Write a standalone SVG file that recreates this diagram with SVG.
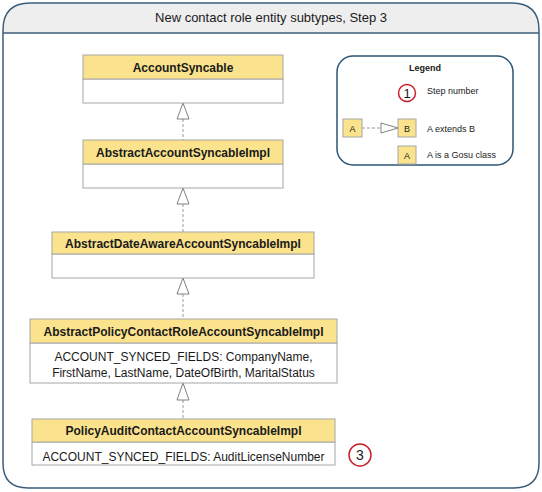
<svg xmlns="http://www.w3.org/2000/svg" width="542" height="492" viewBox="0 0 542 492">
<style>
text{font-family:"Liberation Sans",Arial,sans-serif;fill:#1a1a1a}
.hdr{fill:#fae38c;stroke:#a6a6a6;stroke-width:1}
.body{fill:#ffffff;stroke:#a6a6a6;stroke-width:1}
.name{font-size:12px;font-weight:bold;text-anchor:middle}
.attr{font-size:12px;text-anchor:middle}
.conn{stroke:#9a9a9a;stroke-width:1;stroke-dasharray:3,2;fill:none}
.tri{fill:#ffffff;stroke:#808080;stroke-width:1}
.step{fill:#ffffff;stroke:#c8202a;stroke-width:1.5}
.lg{font-size:9px}
</style>
<g id="frame">
<path d="M3,33 L3,30 Q3,3 30,3 L512,3 Q539,3 539,30 L539,33 Z" fill="#eeeeee"/>
<path d="M3,33 L3,30 Q3,3 30,3 L512,3 Q539,3 539,30 L539,463 Q539,488 514,488 L28,488 Q3,488 3,463 Z" fill="none" stroke="#3b5e7c" stroke-width="1.5"/>
<line x1="3" y1="33" x2="539" y2="33" stroke="#3b5e7c" stroke-width="1.5"/>
<text x="271" y="22" font-size="13" text-anchor="middle">New contact role entity subtypes, Step 3</text>
</g>
<g id="connectors">
<line class="conn" x1="183" y1="119" x2="183" y2="140"/>
<polygon class="tri" points="183,103 177,119 189,119"/>
<line class="conn" x1="183" y1="204" x2="183" y2="232"/>
<polygon class="tri" points="183,188 177,204 189,204"/>
<line class="conn" x1="183" y1="294" x2="183" y2="319"/>
<polygon class="tri" points="183,278 177,294 189,294"/>
<line class="conn" x1="183" y1="400" x2="183" y2="419"/>
<polygon class="tri" points="183,383 177,400 189,400"/>
</g>
<g id="AccountSyncable">
<rect class="body" x="83" y="79" width="200" height="24"/>
<rect class="hdr" x="83" y="55" width="200" height="24"/>
<text class="name" x="183" y="71.5">AccountSyncable</text>
</g>
<g id="AbstractAccountSyncableImpl">
<rect class="body" x="83" y="164" width="200" height="24"/>
<rect class="hdr" x="83" y="140" width="200" height="24"/>
<text class="name" x="183" y="156.5">AbstractAccountSyncableImpl</text>
</g>
<g id="AbstractDateAwareAccountSyncableImpl">
<rect class="body" x="52" y="254" width="262" height="24"/>
<rect class="hdr" x="52" y="232" width="262" height="22"/>
<text class="name" x="183" y="247.5">AbstractDateAwareAccountSyncableImpl</text>
</g>
<g id="AbstractPolicyContactRoleAccountSyncableImpl">
<rect class="body" x="30" y="343" width="307" height="40"/>
<rect class="hdr" x="30" y="319" width="307" height="24"/>
<text class="name" x="183.5" y="335.5">AbstractPolicyContactRoleAccountSyncableImpl</text>
<text class="attr" x="183.5" y="361">ACCOUNT_SYNCED_FIELDS: CompanyName,</text>
<text class="attr" x="183.5" y="377">FirstName, LastName, DateOfBirth, MaritalStatus</text>
</g>
<g id="PolicyAuditContactAccountSyncableImpl">
<rect class="body" x="32" y="442" width="303" height="23"/>
<rect class="hdr" x="32" y="419" width="303" height="23"/>
<text class="name" x="183.5" y="435">PolicyAuditContactAccountSyncableImpl</text>
<text class="attr" x="183.5" y="461">ACCOUNT_SYNCED_FIELDS: AuditLicenseNumber</text>
</g>
<g id="step3">
<circle class="step" cx="360" cy="455" r="11"/>
<text x="360" y="460" font-size="14" text-anchor="middle">3</text>
</g>
<g id="legend">
<rect x="337" y="56" width="176" height="109" rx="16" ry="16" fill="#ffffff" stroke="#2b5574" stroke-width="1.5"/>
<text class="lg" x="425" y="71" font-weight="bold" text-anchor="middle">Legend</text>
<circle class="step" cx="407" cy="93" r="8.5"/>
<text x="407" y="98" font-size="13" text-anchor="middle">1</text>
<text class="lg" x="427" y="94">Step number</text>
<rect class="hdr" x="343" y="119" width="19" height="18"/>
<text class="lg" x="352.5" y="131.5" text-anchor="middle">A</text>
<line class="conn" x1="362" y1="128" x2="381" y2="128"/>
<polygon class="tri" points="398,128 381,123 381,133"/>
<rect class="hdr" x="398" y="119" width="18" height="18"/>
<text class="lg" x="407" y="131.5" text-anchor="middle">B</text>
<text class="lg" x="427" y="132">A extends B</text>
<rect class="hdr" x="398" y="146" width="18" height="18"/>
<text class="lg" x="407" y="158.5" text-anchor="middle">A</text>
<text class="lg" x="427" y="158">A is a Gosu class</text>
</g>
</svg>
